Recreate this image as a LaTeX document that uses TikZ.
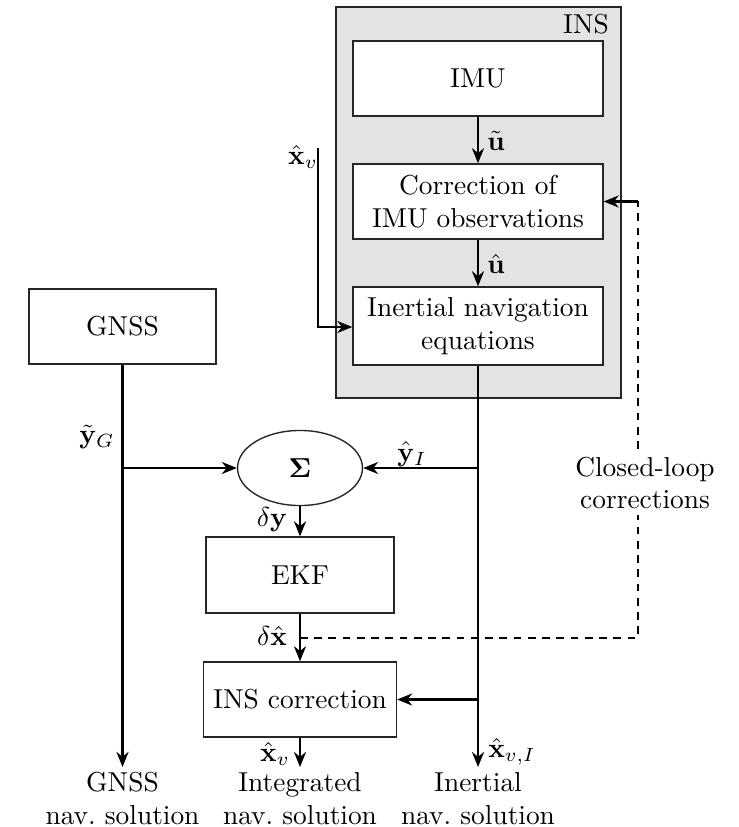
\documentclass[tikz,border=0pt]{standalone}
\usepackage{amsmath,amssymb}
\usetikzlibrary{arrows.meta,shapes.geometric}
\begin{document}
\begin{tikzpicture}[x=0.365pt,y=-0.365pt,
  box/.style={draw=black!85,line width=0.5pt,fill=white,minimum width=91.25pt,minimum height=27.4pt,align=center,inner sep=1pt},
  flow/.style={line width=0.9pt,-{Stealth[length=5.5pt,width=4.4pt]}},
  plain/.style={line width=0.9pt},
  dashline/.style={line width=0.8pt,dashed,dash pattern=on 2.8pt off 2.4pt},
  lbl/.style={inner sep=0pt}]
\useasboundingbox (0,0) rectangle (738,827);
% INS container
\node[draw=black!85,line width=0.5pt,fill=black!11,minimum width=104pt,minimum height=142.7pt,inner sep=0pt] (ins) at (478.5,202.5) {};
\node[lbl] (inslbl) at (586,24) {INS};
% blocks
\node[box] (imu) at (478,78.5) {IMU};
\node[box] (corr) at (478,201.5) {Correction of\\IMU observations};
\node[box,minimum height=28.5pt] (nav) at (478,326) {Inertial navigation\\equations};
\node[box,minimum width=68.3pt] (gnss) at (122.5,326.5) {GNSS};
\node[draw=black!85,line width=0.5pt,ellipse,minimum width=45.6pt,minimum height=27.4pt,inner sep=0pt] (sum) at (300,468) {$\mathbf{\Sigma}$};
\node[box,minimum width=68.6pt,minimum height=27.7pt] (ekf) at (300,575) {EKF};
\node[box,minimum width=70.4pt] (inscorr) at (300,699.5) {INS correction};
% coordinates
\coordinate (xvin) at (318,148);
\coordinate (xvbend) at (318,327);
\coordinate (gj) at (122.5,468);
\coordinate (gend) at (122.5,767);
\coordinate (ij) at (478,468);
\coordinate (ij2) at (478,699.5);
\coordinate (iend) at (478,767);
\coordinate (oend) at (300,767);
\coordinate (dj) at (300,638);
\coordinate (d1) at (638,638);
\coordinate (d2) at (638,201.5);
% INS internal arrows
\draw[flow] (imu.south) -- (corr.north);
\draw[flow] (corr.south) -- (nav.north);
\node[lbl] (ut) at (496,141) {$\tilde{\mathbf{u}}$};
\node[lbl] (uh) at (496,264) {$\hat{\mathbf{u}}$};
% x_v input
\draw[flow] (xvin) -- (xvbend) -- (nav.west |- xvbend);
\node[lbl] (xvl) at (303,157) {$\hat{\mathbf{x}}_v$};
% GNSS line
\draw[flow] (gnss.south) -- (gend);
\draw[flow] (gj) -- (sum.west);
\node[lbl] (ygl) at (97,437) {$\tilde{\mathbf{y}}_G$};
% inertial line
\draw[flow] (nav.south) -- (iend);
\draw[flow] (ij) -- (sum.east);
\draw[flow] (ij2) -- (inscorr.east);
\node[lbl] (yil) at (412,454) {$\hat{\mathbf{y}}_I$};
% sum to EKF
\draw[flow] (sum.south) -- (ekf.north);
\node[lbl] (dyl) at (272,520) {$\delta\mathbf{y}$};
% EKF to INS correction
\draw[flow] (ekf.south) -- (inscorr.north);
\node[lbl] (dxl) at (272,636) {$\delta\hat{\mathbf{x}}$};
% output
\draw[flow] (inscorr.south) -- (oend);
\node[lbl] (xvo) at (275,754) {$\hat{\mathbf{x}}_v$};
\node[lbl] (xvi) at (512,752) {$\hat{\mathbf{x}}_{v,I}$};
% closed loop
\draw[dashline] (dj) -- (d1) -- (d2);
\draw[flow] (d2) -- (corr.east);
\node[fill=white,align=center,inner sep=2pt] (cl) at (645,483) {Closed-loop\\corrections};
% bottom labels
\node[align=center,anchor=north,inner sep=1pt] (gsol) at (122.5,769) {GNSS\\nav.~solution};
\node[align=center,anchor=north,inner sep=1pt] (isol) at (300,769) {Integrated\\nav.~solution};
\node[align=center,anchor=north,inner sep=1pt] (nsol) at (478,769) {Inertial\\nav.~solution};
\end{tikzpicture}
\end{document}
